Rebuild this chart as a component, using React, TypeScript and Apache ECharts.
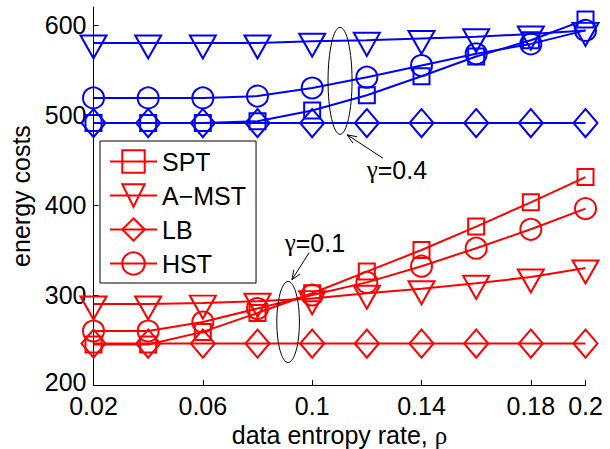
import React, { useEffect, useRef } from 'react';
import * as echarts from 'echarts';

// ---- data ----
const xValues = [0.02, 0.04, 0.06, 0.08, 0.1, 0.12, 0.14, 0.16, 0.18, 0.2];
const xTickValues = [0.02, 0.06, 0.1, 0.14, 0.18, 0.2];
const yTickValues = [200, 300, 400, 500, 600];
const legendNames = ['SPT', 'A\u2212MST', 'LB', 'HST'];

// gamma = 0.4 (blue)
const sptHigh = [491, 491, 491, 493, 505, 522, 543, 565, 583, 606];
const amstHigh = [580, 580, 580, 580, 582, 583, 585, 587, 590, 594];
const lbHigh = [491, 491, 491, 491, 491, 491, 491, 491, 491, 491];
const hstHigh = [519, 519, 519, 521, 530, 542, 555, 568, 579, 594];

// gamma = 0.1 (red)
const sptLow = [245, 245, 259, 280, 302, 326, 350, 376, 403, 431];
const amstLow = [290, 290, 291, 293, 296, 302, 307, 313, 320, 330];
const lbLow = [246, 246, 246, 246, 246, 246, 246, 246, 246, 246];
const hstLow = [260, 260, 270, 285, 300, 314, 332, 352, 373, 396];

// annotation anchors in data coordinates
const highEllipseCenter = [0.1102, 538];
const highArrowFrom = [0.1259, 452];
const highArrowTo = [0.1128, 478];
const highLabelAt = [0.131, 439];
const lowEllipseCenter = [0.0912, 270];
const lowArrowFrom = [0.0989, 347];
const lowArrowTo = [0.0926, 317];
const lowLabelAt = [0.101, 358];

const FONT = '"Liberation Sans", Arial, Helvetica, sans-serif';
const SERIF = '"Liberation Serif", "DejaVu Serif", serif';
const BLUE = '#0000ff';
const RED = '#ff0000';
const TRI_DOWN = 'path://M0,0L20,0L10,17.32Z';

const markerStyles: Record<string, any> = {
  SPT: { symbol: 'rect', symbolSize: 16, symbolOffset: [0, 0] },
  'A\u2212MST': { symbol: TRI_DOWN, symbolSize: [26, 23], symbolOffset: [0, 4] },
  LB: { symbol: 'diamond', symbolSize: [24, 28], symbolOffset: [0, 0] },
  HST: { symbol: 'circle', symbolSize: 21, symbolOffset: [0, 0] },
};

function makeSeries(name: string, key: string, values: number[], color: string) {
  const m = markerStyles[key];
  return {
    type: 'line',
    name,
    data: xValues.map((x, i) => [x, values[i]]),
    symbol: m.symbol,
    symbolSize: m.symbolSize,
    symbolOffset: m.symbolOffset,
    showAllSymbol: true,
    clip: false,
    silent: true,
    lineStyle: { color, width: 2 },
    itemStyle: { color: 'rgba(0,0,0,0)', borderColor: color, borderWidth: 2 },
    emphasis: { disabled: true },
  };
}

export default function App() {
  const ref = useRef<HTMLDivElement>(null);
  useEffect(() => {
    document.body.style.margin = '0';
    if (!ref.current) return;
    const chart = echarts.init(ref.current, null, { renderer: 'svg' });
    const option: any = {
      animation: false,
      backgroundColor: '#fff',
      textStyle: { fontFamily: FONT },
      grid: { left: 93.5, right: 24.5, top: 7, bottom: 64, outerBoundsMode: 'none' },
      legend: {
        data: legendNames,
        orient: 'vertical',
        left: 100,
        top: 141,
        selectedMode: false,
        backgroundColor: '#fff',
        borderColor: '#000',
        borderWidth: 1,
        borderRadius: 0,
        padding: [8, 10, 7, 9],
        itemWidth: 47,
        itemHeight: 28,
        itemGap: 9,
        textStyle: { fontSize: 25, color: '#000', fontFamily: FONT },
      },
      xAxis: {
        type: 'value',
        min: 0.02,
        max: 0.2,
        name: 'data entropy rate, {g|\u03c1}',
        nameLocation: 'middle',
        nameGap: 32,
        nameTextStyle: {
          fontSize: 25, color: '#000', fontFamily: FONT,
          rich: { g: { fontSize: 25, color: '#000', fontFamily: SERIF } },
        },
        axisLine: { lineStyle: { color: '#000', width: 1 } },
        axisTick: { inside: true, length: 5, customValues: xTickValues, lineStyle: { color: '#000' } },
        axisLabel: {
          customValues: xTickValues,
          fontSize: 25,
          color: '#000',
          margin: 8,
          formatter: (v: number) => String(+v.toFixed(2)),
        },
        splitLine: { show: false },
      },
      yAxis: {
        type: 'value',
        min: 200,
        max: 620,
        name: 'energy costs',
        nameLocation: 'middle',
        nameGap: 58,
        nameTextStyle: { fontSize: 25, color: '#000', fontFamily: FONT },
        axisLine: { show: true, lineStyle: { color: '#000', width: 1 } },
        axisTick: { show: true, inside: true, length: 5, customValues: yTickValues, lineStyle: { color: '#000' } },
        axisLabel: {
          customValues: yTickValues,
          fontSize: 25,
          color: '#000',
          margin: 7,
          formatter: (v: number) => (v === yTickValues[0] ? '{lo|' + v + '}' : String(v)),
          rich: { lo: { fontSize: 25, color: '#000', fontFamily: FONT, padding: [0, 0, 6, 0] } },
        },
        splitLine: { show: false },
      },
      tooltip: { show: false },
      series: [
        makeSeries('SPT \u03b3=0.4', 'SPT', sptHigh, BLUE),
        makeSeries('A\u2212MST \u03b3=0.4', 'A\u2212MST', amstHigh, BLUE),
        makeSeries('LB \u03b3=0.4', 'LB', lbHigh, BLUE),
        makeSeries('HST \u03b3=0.4', 'HST', hstHigh, BLUE),
        makeSeries('SPT', 'SPT', sptLow, RED),
        makeSeries('A\u2212MST', 'A\u2212MST', amstLow, RED),
        makeSeries('LB', 'LB', lbLow, RED),
        makeSeries('HST', 'HST', hstLow, RED),
      ],
    };
    chart.setOption(option);

    const px = (p: number[]) => chart.convertToPixel({ gridIndex: 0 }, p) as number[];
    const arrow = (fromD: number[], toD: number[]) => {
      const a = px(fromD);
      const b = px(toD);
      const ang = Math.atan2(a[1] - b[1], a[0] - b[0]);
      const len = 10;
      const spread = (22 * Math.PI) / 180;
      const h1 = [b[0] + len * Math.cos(ang + spread), b[1] + len * Math.sin(ang + spread)];
      const h2 = [b[0] + len * Math.cos(ang - spread), b[1] + len * Math.sin(ang - spread)];
      return [
        { type: 'line', silent: true, shape: { x1: a[0], y1: a[1], x2: b[0], y2: b[1] }, style: { stroke: '#000', lineWidth: 1 } },
        { type: 'polyline', silent: true, shape: { points: [h1, b, h2] }, style: { stroke: '#000', lineWidth: 1, fill: 'none' } },
      ];
    };
    const ellipse = (c: number[], rx: number, ry: number) => {
      const p = px(c);
      return { type: 'ellipse', silent: true, shape: { cx: p[0], cy: p[1], rx, ry }, style: { stroke: '#000', lineWidth: 1, fill: 'none' }, z: 10 };
    };
    const label = (c: number[], value: string) => {
      const p = px(c);
      return {
        type: 'text', silent: true, x: p[0], y: p[1], z: 10,
        style: {
          text: '{g|\u03b3}{n|=' + value + '}',
          fill: '#000', fontSize: 25, fontFamily: FONT, align: 'center', verticalAlign: 'middle',
          rich: {
            g: { fontSize: 25, fontFamily: SERIF, fill: '#000' },
            n: { fontSize: 25, fontFamily: FONT, fill: '#000' },
          },
        },
      };
    };
    chart.setOption({
      graphic: [
        ellipse(highEllipseCenter, 12, 53.5),
        ...arrow(highArrowFrom, highArrowTo),
        label(highLabelAt, '0.4'),
        ellipse(lowEllipseCenter, 11.3, 40.5),
        ...arrow(lowArrowFrom, lowArrowTo),
        label(lowLabelAt, '0.1'),
      ],
    });
    return () => chart.dispose();
  }, []);
  return (
    <div style={{ position: 'fixed', left: 0, top: 0, width: 610, height: 449 }}>
      <div ref={ref} style={{ width: 610, height: 449 }} />
    </div>
  );
}
